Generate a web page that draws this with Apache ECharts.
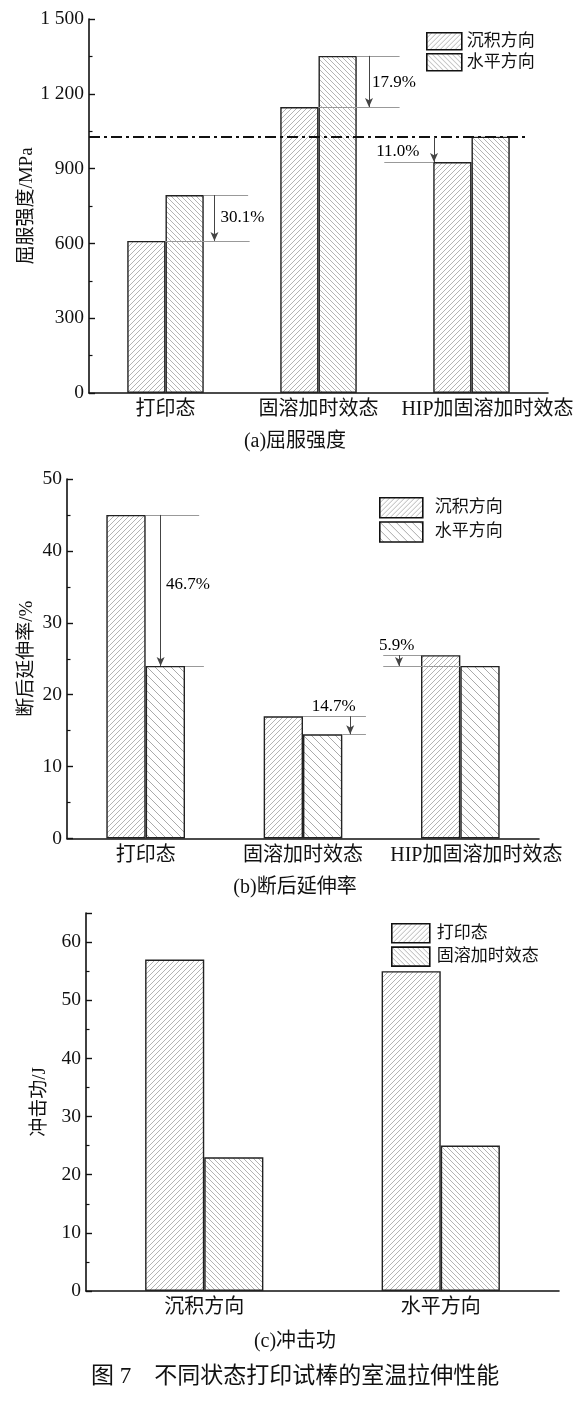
<!DOCTYPE html>
<html><head><meta charset="utf-8">
<script src="https://cdn.jsdelivr.net/npm/echarts@6/dist/echarts.min.js"></script>
<style>html,body{margin:0;padding:0;background:#fff;}#c{width:582px;height:1403px;}</style>
</head><body><div id="c"></div>
<script>
// ---------------- data ----------------
const categoriesAB = ['打印态', '固溶加时效态', 'HIP加固溶加时效态'];
const seriesNamesAB = ['沉积方向', '水平方向'];
const yieldDeposit = [610, 1147, 926];
const yieldHorizontal = [794, 1352, 1028];
const yieldPercent = ['30.1%', '17.9%', '11.0%'];
const elongDeposit = [45, 17, 25.5];
const elongHorizontal = [24, 14.5, 24];
const elongPercent = ['46.7%', '14.7%', '5.9%'];
const categoriesC = ['沉积方向', '水平方向'];
const seriesNamesC = ['打印态', '固溶加时效态'];
const impactPrinted = [57, 55];
const impactAged = [23, 25];
const titleA = '(a)屈服强度';
const titleB = '(b)断后延伸率';
const titleC = '(c)冲击功';
const caption = '图 7　不同状态打印试棒的室温拉伸性能';
const yNameA = '屈服强度/MPa';
const yNameB = '断后延伸率/%';
const yNameC = '冲击功/J';

// ---------------- styles ----------------
const SERIF = "'Liberation Serif','Times New Roman','Noto Sans CJK SC',serif";
const TXT = '#111';
function hatch(dir, s, color) {
  const c = document.createElement('canvas');
  c.width = s; c.height = s;
  const g = c.getContext('2d');
  g.fillStyle = '#fff'; g.fillRect(0, 0, s, s);
  g.strokeStyle = color; g.lineWidth = 1;
  g.beginPath();
  if (dir === '/') {
    g.moveTo(0, s); g.lineTo(s, 0);
    g.moveTo(-1, 1); g.lineTo(1, -1);
    g.moveTo(s - 1, s + 1); g.lineTo(s + 1, s - 1);
  } else {
    g.moveTo(0, 0); g.lineTo(s, s);
    g.moveTo(-1, s - 1); g.lineTo(1, s + 1);
    g.moveTo(s - 1, -1); g.lineTo(s + 1, 1);
  }
  g.stroke();
  return { image: c, repeat: 'repeat' };
}
const fwd5 = hatch('/', 5, '#b4b4b4');
const back5 = hatch('\\', 5, '#b4b4b4');
const back8 = hatch('\\', 8, '#aaaaaa');

const grids = [
  { left: 89, top: 19, width: 459, height: 374 },
  { left: 67, top: 479, width: 472, height: 359.5 },
  { left: 86, top: 913, width: 473, height: 378 }
].map(g => Object.assign({ containLabel: false, outerBoundsMode: 'none' }, g));

function catAxis(gi, cats, hipPad) {
  return {
    type: 'category', gridIndex: gi, data: cats, boundaryGap: true,
    axisLine: { show: true, lineStyle: { color: '#111', width: 1.6 } },
    axisTick: { show: false },
    splitLine: { show: false },
    axisLabel: {
      show: true, interval: 0, margin: 7, color: TXT, fontSize: 20, fontFamily: SERIF,
      formatter: v => (hipPad && v.indexOf('HIP') === 0) ? '{h|' + v + '}' : v,
      rich: { h: { padding: [0, 0, 0, 32], fontSize: 20, fontFamily: SERIF, color: TXT } }
    }
  };
}
function valXAxis(gi, max) {
  return { type: 'value', gridIndex: gi, min: 0, max: max, show: false, splitLine: { show: false } };
}
function valYAxis(gi, max, interval, name, gap, fmt, hideMax) {
  return {
    type: 'value', gridIndex: gi, min: 0, max: max, interval: interval,
    name: name, nameLocation: 'middle', nameRotate: 90, nameGap: gap, nameMoveOverlap: false,
    nameTextStyle: { fontSize: 19, color: TXT, fontFamily: SERIF },
    axisLine: { show: true, lineStyle: { color: '#111', width: 1.6 } },
    axisTick: { show: true, inside: true, length: 6, lineStyle: { color: '#111', width: 1.4 } },
    minorTick: { show: true, splitNumber: 2, length: 3.5, lineStyle: { color: '#111', width: 1.2 } },
    splitLine: { show: false }, minorSplitLine: { show: false },
    axisLabel: { color: TXT, fontSize: 19.5, fontFamily: SERIF, margin: 5, showMaxLabel: !hideMax, formatter: fmt }
  };
}
const spaceThousands = v => String(v).replace(/\B(?=(\d{3})+(?!\d))/g, ' ');

function bar(name, xi, yi, data, pattern) {
  return {
    type: 'bar', name: name, xAxisIndex: xi, yAxisIndex: yi, data: data,
    barWidth: '25%', barGap: '0%',
    itemStyle: { color: pattern, borderColor: '#222', borderWidth: 1.4 },
    emphasis: { disabled: true }, silent: true
  };
}

const thin = { color: '#999', width: 1, type: 'solid' };
const arrowStyle = { color: '#444', width: 1, type: 'solid' };
function seg(x1, y1, x2, y2, style) {
  return [{ coord: [x1, y1], symbol: 'none', lineStyle: style || thin }, { coord: [x2, y2], symbol: 'none' }];
}
function arrow(x, y1, y2) {
  return [{ coord: [x, y1], symbol: 'none', lineStyle: arrowStyle }, { coord: [x, y2], symbol: 'arrow', symbolSize: [6, 9] }];
}
function annSeries(xi, yi, labels, lines) {
  return {
    type: 'scatter', xAxisIndex: xi, yAxisIndex: yi, symbolSize: 0, silent: true,
    itemStyle: { color: '#000', opacity: 1 },
    data: labels.map(l => ({
      value: [l.x, l.y],
      label: { show: true, position: l.pos, distance: 0, formatter: l.text,
               fontSize: 17, fontFamily: SERIF, color: '#000', textBorderWidth: 0, opacity: 1 }
    })),
    markLine: { silent: true, animation: false, label: { show: false }, emphasis: { disabled: true }, data: lines }
  };
}

// annotations (a)
const D = yieldDeposit, H = yieldHorizontal;
const annA = annSeries(1, 0, [
  { x: 0.86, y: (D[0] + H[0]) / 2, text: yieldPercent[0], pos: 'right' },
  { x: 1.85, y: (D[1] + H[1]) / 2 - 6, text: yieldPercent[1], pos: 'right' },
  { x: 2.16, y: (D[2] + H[2]) / 2 - 8, text: yieldPercent[2], pos: 'left' }
], [
  seg(0.75, H[0], 1.04, H[0]), seg(0.5, D[0], 1.05, D[0]), arrow(0.82, H[0], D[0]),
  seg(1.75, H[1], 2.03, H[1]), seg(1.5, D[1], 2.03, D[1]), arrow(1.83, H[1], D[1]),
  seg(0, H[2], 2.875, H[2], { color: '#111', width: 2, type: [11, 4, 3, 4] }),
  seg(1.93, D[2], 2.25, D[2]), arrow(2.255, H[2], D[2])
]);
// annotations (b)
const E = elongDeposit, F = elongHorizontal;
const annB = annSeries(3, 1, [
  { x: 0.63, y: (E[0] + F[0]) / 2 + 0.8, text: elongPercent[0], pos: 'right' },
  { x: 1.695, y: E[1] + 0.2, text: elongPercent[1], pos: 'top' },
  { x: 2.095, y: E[2] + 0.2, text: elongPercent[2], pos: 'top' }
], [
  seg(0.5, E[0], 0.84, E[0]), seg(0.75, F[0], 0.87, F[0]), arrow(0.595, E[0], F[0]),
  seg(1.5, E[1], 1.90, E[1]), seg(1.75, F[1], 1.90, F[1]), arrow(1.80, E[1], F[1]),
  seg(2.01, E[2], 2.25, E[2]), seg(2.01, F[2], 2.5, F[2]), arrow(2.11, E[2], F[2])
]);

function legend(left, top, w, h, gap, pad, names, pats) {
  return {
    orient: 'vertical', left: left, top: top, itemWidth: w, itemHeight: h, itemGap: gap,
    icon: 'rect', selectedMode: false, padding: 0,
    itemStyle: { borderColor: '#111', borderWidth: 1.6 },
    textStyle: { fontSize: 17, color: TXT, fontFamily: SERIF, lineHeight: h, padding: [0, 0, 0, pad] },
    data: names.map((n, i) => ({ name: n, icon: 'rect', itemStyle: { color: pats[i], borderColor: '#111', borderWidth: 1.6 } }))
  };
}

const option = {
  animation: false,
  backgroundColor: '#fff',
  grid: grids,
  xAxis: [
    catAxis(0, categoriesAB, true), valXAxis(0, 3),
    catAxis(1, categoriesAB, true), valXAxis(1, 3),
    catAxis(2, categoriesC, false), valXAxis(2, 2)
  ],
  yAxis: [
    valYAxis(0, 1500, 300, yNameA, 52, spaceThousands, false),
    valYAxis(1, 50, 10, yNameB, 30, null, false),
    valYAxis(2, 65, 10, yNameC, 36, null, true)
  ],
  legend: [
    legend(426, 32, 35, 17, 2.4, 0, seriesNamesAB, [fwd5, back5]),
    legend(379, 497, 43, 20, 2.6, 7, seriesNamesAB, [fwd5, back8]),
    legend(391, 923, 38, 19, 2.7, 2, seriesNamesC, [fwd5, back5])
  ],
  series: [
    bar(seriesNamesAB[0], 0, 0, yieldDeposit, fwd5),
    bar(seriesNamesAB[1], 0, 0, yieldHorizontal, back5),
    bar(seriesNamesAB[0], 2, 1, elongDeposit, fwd5),
    bar(seriesNamesAB[1], 2, 1, elongHorizontal, back8),
    bar(seriesNamesC[0], 4, 2, impactPrinted, fwd5),
    bar(seriesNamesC[1], 4, 2, impactAged, back5),
    annA, annB
  ],
  graphic: [
    { type: 'text', x: 295, y: 442, style: { text: titleA, align: 'center', verticalAlign: 'middle', font: "20px " + SERIF, fill: TXT } },
    { type: 'text', x: 295, y: 888, style: { text: titleB, align: 'center', verticalAlign: 'middle', font: "20px " + SERIF, fill: TXT } },
    { type: 'text', x: 295, y: 1342, style: { text: titleC, align: 'center', verticalAlign: 'middle', font: "20px " + SERIF, fill: TXT } },
    { type: 'text', x: 295, y: 1377, style: { text: caption, align: 'center', verticalAlign: 'middle', font: "23px " + SERIF, fill: TXT } }
  ]
};
const chart = echarts.init(document.getElementById('c'), null, { renderer: 'canvas' });
chart.setOption(option);
</script></body></html>
